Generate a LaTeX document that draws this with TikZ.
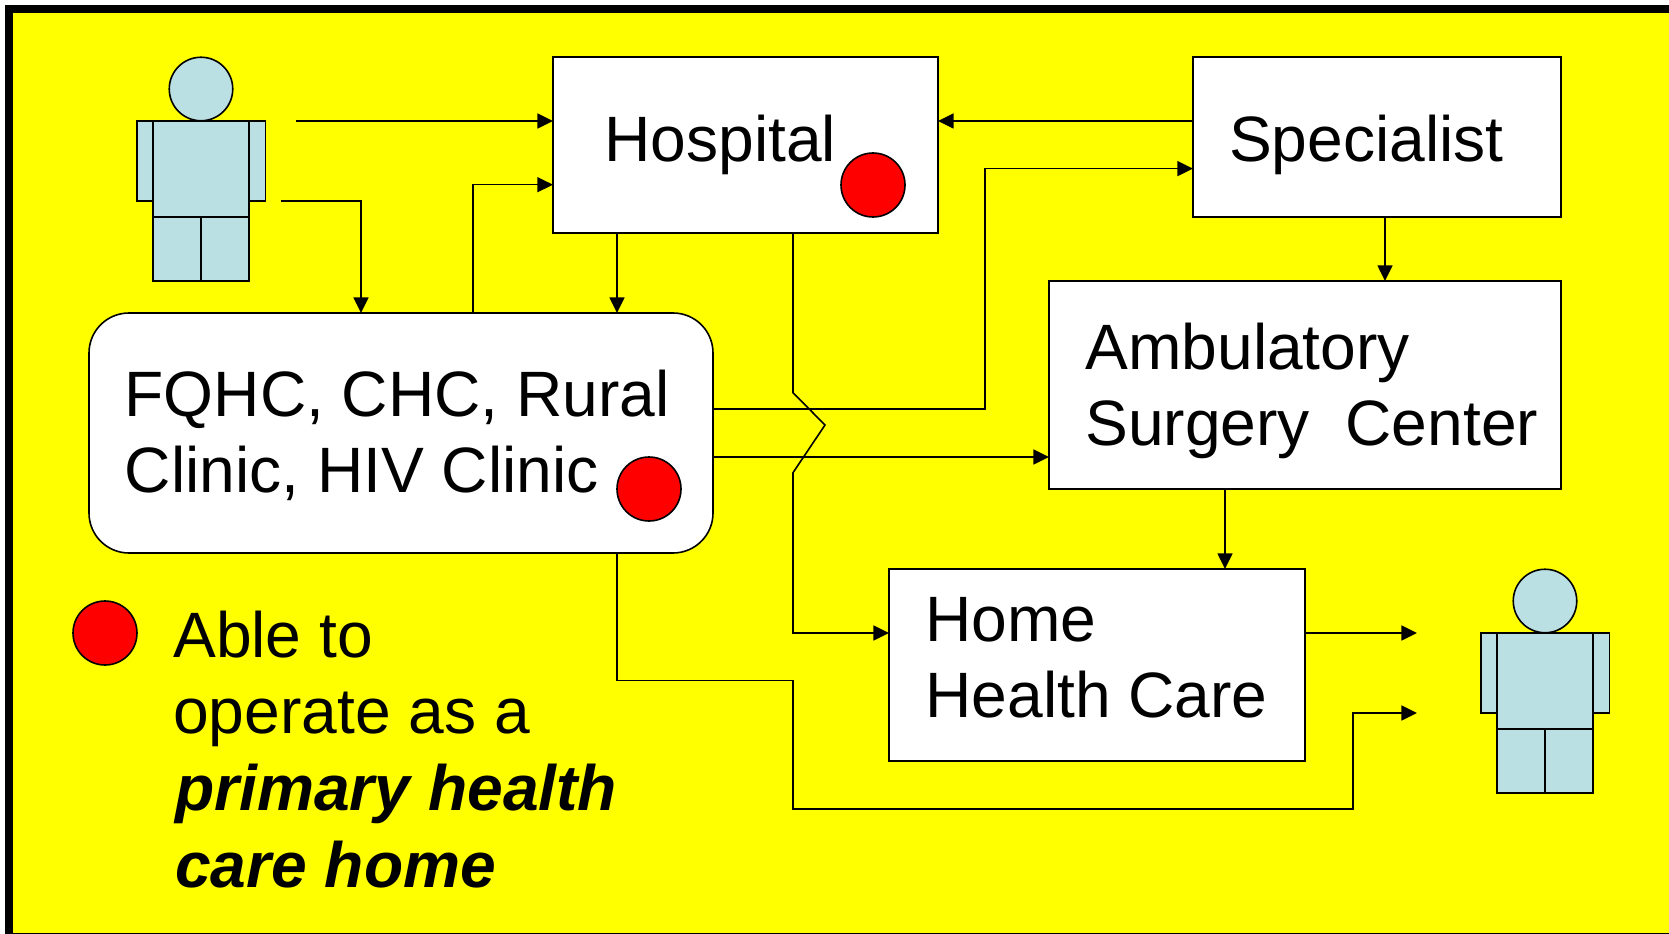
\documentclass[tikz,border=0pt]{standalone}
\usepackage{fontspec}
\setmainfont{Liberation Sans}
\usetikzlibrary{arrows.meta}
\newdimen\pxu \pxu=0.75pt
% #1 total width, #2 left pad, #3 first baseline above centre, #4 text
\newcommand{\inbox}[4]{\makebox[#1\pxu][l]{\hspace*{#2\pxu}\raisebox{#3\pxu}[0pt][0pt]{\parbox[t]{\dimexpr#1\pxu-#2\pxu\relax}{\raggedright #4}}}}
\definecolor{headblue}{RGB}{187,224,227}
\definecolor{pureyellow}{RGB}{255,255,0}
\definecolor{purered}{RGB}{255,0,0}
\tikzset{
  x=0.75pt,y=-0.75pt,
  ink/.style={line width=1.2pt,draw=black},
  boxnode/.style={ink,fill=white,rectangle,inner sep=0pt,outer sep=0pt,
    font=\fontsize{48.1}{57.5}\selectfont},
  reddot/.style={ink,fill=purered,circle,inner sep=0pt,outer sep=0pt,minimum size=64\pxu},
  arr/.style={ink,-{Triangle[length=11.7pt,width=11.2pt]}},
  bodypart/.style={ink,fill=headblue},
  pics/person/.style={code={
    \filldraw[bodypart] (-64.3,0) rectangle (64.3,80);
    \filldraw[bodypart] (-48,0) rectangle (48,96);
    \filldraw[bodypart] (-48,96) rectangle (0,160);
    \filldraw[bodypart] (0,96) rectangle (48,160);
    \node[ink,fill=headblue,circle,inner sep=0pt,outer sep=0pt,minimum size=63.5\pxu] (head) at (0,-32) {};
  }}
}
\begin{document}
\begin{tikzpicture}
\useasboundingbox (0,0) rectangle (1669,934);
\fill[white] (0,0) rectangle (1669,934);
\fill[black] (5.4,5) rectangle (1669,934);
\fill[pureyellow] (12.9,12.7) rectangle (1669,932.8);

\pic (pa) at (201,121) {person};
\pic (pb) at (1545,633) {person};

\node[boxnode,minimum width=385\pxu,minimum height=176\pxu] (hosp) at (745.5,145)
  {\inbox{384}{51}{-17}{Hospital}};
\node[boxnode,minimum width=368\pxu,minimum height=160\pxu] (spec) at (1377,137)
  {\inbox{367}{35.5}{-24.8}{Specialist}};
\node[boxnode,minimum width=512\pxu,minimum height=208\pxu] (amb) at (1305,385)
  {\inbox{511}{36}{16}{Ambulatory\\Surgery\ \ Center}};
\node[boxnode,minimum width=416\pxu,minimum height=192\pxu] (home) at (1097,665)
  {\inbox{415}{36}{24}{Home\\Health Care}};
\node[boxnode,rounded corners=30pt,minimum width=624\pxu,minimum height=240\pxu] (fqhc) at (401,433)
  {\inbox{622}{34.7}{16.7}{FQHC, CHC, Rural\\Clinic, HIV Clinic}};

\node[reddot] (dothosp) at (873,185) {};
\node[reddot] (dotfqhc) at (649,489) {};
\node[reddot] (dotkey) at (105,633) {};

\node[anchor=base west,inner sep=0pt,font=\fontsize{48.1}{57.5}\selectfont] (key) at (173,657)
  {\parbox[t]{520\pxu}{\raggedright Able to\\operate as a\\\hspace*{1.5pt}\textbf{\textit{primary health}}\\\hspace*{1.5pt}\textbf{\textit{care home}}}};

\coordinate (paout) at (296.4,121);
\coordinate (paoutb) at (280.5,201);
\coordinate (pbin) at (1417,633);
\coordinate (pbinb) at (1417,713);

% person to hospital, clinic
\draw[arr] (paout) -- (paout -| hosp.west);
\draw[arr] (paoutb) -| (361,0 |- fqhc.north);
% clinic to hospital
\draw[arr] (473,0 |- fqhc.north) |- (hosp.west |- 0,184.7);
% hospital to clinic
\draw[arr] (617,0 |- hosp.south) -- (617,0 |- fqhc.north);
% specialist to hospital
\draw[arr] (spec.west |- 0,121) -- (hosp.east |- 0,121);
% clinic to specialist
\draw[arr] (fqhc.east |- 0,409) -| (985,168.6) -- (spec.west |- 0,168.6);
% clinic to ambulatory
\draw[arr] (fqhc.east |- 0,457) -- (amb.west |- 0,457);
% specialist to ambulatory
\draw[arr] (1385,0 |- spec.south) -- (1385,0 |- amb.north);
% ambulatory to home
\draw[arr] (1225,0 |- amb.south) -- (1225,0 |- home.north);
% hospital to home, with the jog
\draw[arr] (793,0 |- hosp.south) -- (793,392.7) -- (825,425) -- (793,472.7) |- (home.west |- 0,633);
% home to person
\draw[arr] (home.east |- pbin) -- (pbin);
% clinic to person
\draw[arr] (617,0 |- fqhc.south) -- (617,680.6) -- (793,680.6) -- (793,808.7) -- (1353,808.7) |- (pbinb);
\end{tikzpicture}
\end{document}
